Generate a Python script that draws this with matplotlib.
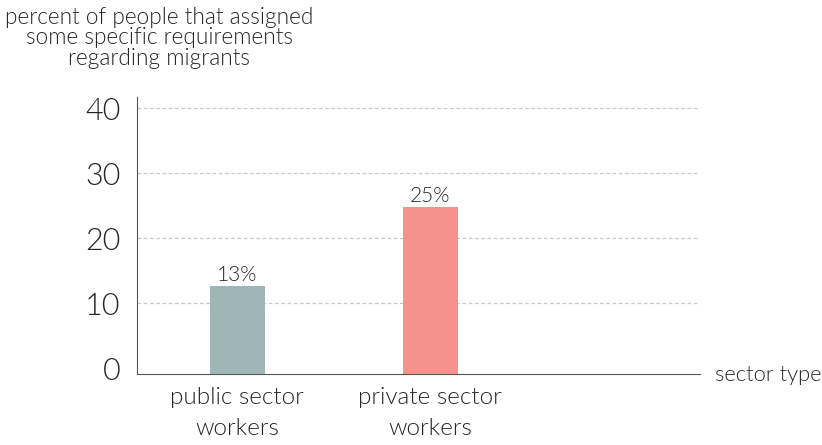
import matplotlib.pyplot as plt

# share of respondents, by sector
categories = ["public sector\nworkers", "private sector\nworkers"]
values = [12.6, 24.8]
colors = ["#9eb6b6", "#f7918b"]
y_ticks = [0, 10, 20, 30, 40]

plt.rcParams["font.family"] = ["Lato", "DejaVu Sans"]
text_color = "#262626"
w = 300
y_floor = -0.92

fig = plt.figure(figsize=(8.22, 4.45), dpi=100)
ax = fig.add_axes([137 / 822, (445 - 374) / 445, (700 - 137) / 822, (374 - 97) / 445])

x = range(len(categories))
# bars rise from the baseline of the axis
bars = ax.bar(x, [v - y_floor for v in values], bottom=y_floor, width=0.285,
              color=colors, zorder=3)
for b, v in zip(bars, values):
    ax.text(b.get_x() + b.get_width() / 2, v + 0.1, f"{v:.0f}%",
            ha="center", va="bottom", fontsize=15, color=text_color, fontweight=w)

ax.set_xlim(-0.52, 2.4)
ax.set_ylim(y_floor, 41.7)
ax.set_yticks(y_ticks)
ax.set_yticklabels([str(t) for t in y_ticks], fontsize=22, color=text_color, fontweight=w)
ax.set_xticks(list(x))
ax.set_xticklabels(categories, fontsize=17.5, color=text_color, linespacing=1.6, fontweight=w)
ax.tick_params(axis="y", length=0, pad=12)
ax.tick_params(axis="x", length=0, pad=9)

# dashed guides, none at zero
for t in y_ticks[1:]:
    ax.axhline(t, linestyle=(0, (3, 2)), color="#c8c8c8", linewidth=0.9, zorder=0)
for s in ["top", "right"]:
    ax.spines[s].set_visible(False)
ax.spines["left"].set_color("#555555")
ax.spines["bottom"].set_color("#555555")

fig.text(715 / 822, 1 - 375 / 445, "sector type", ha="left", va="center",
         fontsize=15.8, color=text_color, fontweight=w)
fig.text(159 / 822, 1 - 38 / 445,
         "percent of people that assigned\nsome specific requirements\nregarding migrants",
         ha="center", va="center", fontsize=16.3, color=text_color, linespacing=0.98,
         fontweight=w)

fig.savefig("out.png", dpi=100)
